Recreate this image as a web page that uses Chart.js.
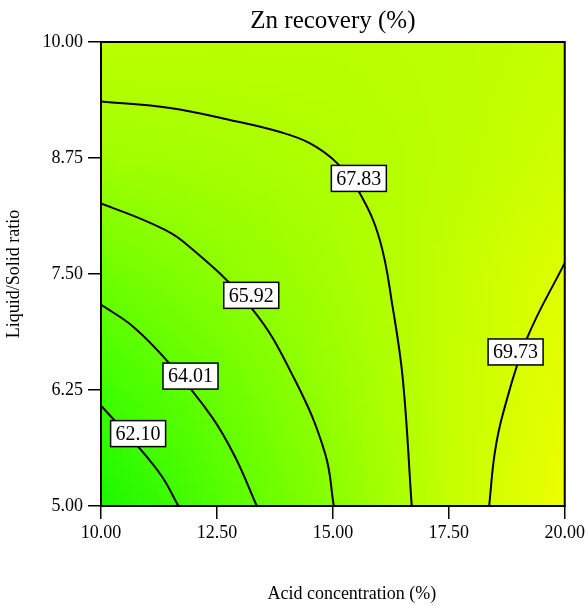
<!DOCTYPE html>
<html>
<head>
<meta charset="utf-8">
<script src="https://cdn.jsdelivr.net/npm/chart.js@4.4.0/dist/chart.umd.min.js"></script>
<style>
  html, body { margin: 0; padding: 0; background: #fff; }
  #wrap { width: 588px; height: 606px; }
</style>
</head>
<body>
<div id="wrap"><canvas id="c" width="588" height="606"></canvas></div>
<script>
// Factor levels (axis ticks)
const acidTicks = [10, 12.5, 15, 17.5, 20];
const ratioTicks = [5, 6.25, 7.5, 8.75, 10];

// Response surface estimate, Zn recovery (%): one row per ratio tick (5 → 10),
// one column per acid tick (10 → 20)
const recoveryRow500 = [60.8, 63.3, 65.9, 68.6, 70.5];
const recoveryRow625 = [62.4, 64.4, 66.6, 68.6, 70.1];
const recoveryRow750 = [64.6, 65.9, 67.2, 68.5, 69.8];
const recoveryRow875 = [66.8, 67.2, 67.6, 68.2, 69.0];
const recoveryRow1000 = [68.1, 68.0, 68.0, 68.2, 68.6];

// Contour levels and their traced iso-lines (acid %, liquid/solid ratio)
const contourLevels = [62.10, 64.01, 65.92, 67.83, 69.73];
const contour6210 = [
  {x: 10.00, y: 6.08}, {x: 10.80, y: 5.64}, {x: 11.31, y: 5.32},
  {x: 11.67, y: 5.00}
];
const contour6401 = [
  {x: 10.00, y: 7.17}, {x: 10.70, y: 6.93}, {x: 11.45, y: 6.55},
  {x: 12.39, y: 5.96}, {x: 12.89, y: 5.53}, {x: 13.36, y: 5.00}
];
const contour6592 = [
  {x: 10.00, y: 8.26}, {x: 11.06, y: 8.05}, {x: 11.77, y: 7.85},
  {x: 13.25, y: 7.13}, {x: 14.18, y: 6.36}, {x: 14.83, y: 5.57},
  {x: 15.02, y: 5.00}
];
const contour6783 = [
  {x: 10.00, y: 9.36}, {x: 11.49, y: 9.29}, {x: 12.78, y: 9.16},
  {x: 13.86, y: 9.03}, {x: 14.50, y: 8.91}, {x: 15.08, y: 8.70},
  {x: 15.56, y: 8.39}, {x: 16.01, y: 7.87}, {x: 16.29, y: 7.14},
  {x: 16.51, y: 6.36}, {x: 16.70, y: 5.00}
];
const contour6973 = [
  {x: 18.37, y: 5.00}, {x: 18.49, y: 5.57}, {x: 18.67, y: 6.00},
  {x: 19.18, y: 6.80}, {x: 20.00, y: 7.62}
];
// Where each level's value tag sits (acid %, liquid/solid ratio)
const contourLabelAt = [
  {x: 10.80, y: 5.78}, {x: 11.93, y: 6.40}, {x: 13.24, y: 7.27},
  {x: 15.56, y: 8.53}, {x: 18.94, y: 6.66}
];

const recoveryGrid = [recoveryRow500, recoveryRow625, recoveryRow750, recoveryRow875, recoveryRow1000];
const contourLines = [contour6210, contour6401, contour6592, contour6783, contour6973];

const SERIF = "'Liberation Serif', 'Times New Roman', serif";

// green → yellow colour ramp for the response value
function rampColor(v) {
  const r = Math.max(0, Math.min(255, 20 + (v - 60.5) * 22));
  const g = Math.max(0, Math.min(255, 246 + (v - 60.5) * 8));
  return [Math.round(r), Math.round(g), 0];
}

const surfacePlugin = {
  id: 'surface',
  beforeDatasetsDraw(chart) {
    const {ctx, chartArea: a, scales: {x, y}} = chart;
    const nx = acidTicks.length, ny = ratioTicks.length;
    const off = document.createElement('canvas');
    off.width = nx; off.height = ny;
    const octx = off.getContext('2d');
    const img = octx.createImageData(nx, ny);
    for (let r = 0; r < ny; r++) {
      const row = recoveryGrid[ny - 1 - r];
      for (let c = 0; c < nx; c++) {
        const [R, G, B] = rampColor(row[c]);
        const k = (r * nx + c) * 4;
        img.data[k] = R; img.data[k + 1] = G; img.data[k + 2] = B; img.data[k + 3] = 255;
      }
    }
    octx.putImageData(img, 0, 0);
    const x0 = x.getPixelForValue(acidTicks[0]);
    const x1 = x.getPixelForValue(acidTicks[nx - 1]);
    const yTop = y.getPixelForValue(ratioTicks[ny - 1]);
    const yBot = y.getPixelForValue(ratioTicks[0]);
    const cw = (x1 - x0) / (nx - 1), ch = (yBot - yTop) / (ny - 1);
    ctx.save();
    ctx.beginPath();
    ctx.rect(a.left, a.top, a.right - a.left, a.bottom - a.top);
    ctx.clip();
    ctx.imageSmoothingEnabled = true;
    ctx.imageSmoothingQuality = 'low';
    ctx.drawImage(off, x0 - cw / 2, yTop - ch / 2, cw * nx, ch * ny);
    ctx.restore();
  },
  afterDatasetsDraw(chart) {
    const {ctx, chartArea: a, scales: {x, y}} = chart;
    // plot frame
    ctx.save();
    ctx.strokeStyle = '#000';
    ctx.lineWidth = 2;
    ctx.strokeRect(a.left, a.top, a.right - a.left, a.bottom - a.top);
    // contour value tags
    ctx.font = '20px ' + SERIF;
    ctx.textAlign = 'center';
    ctx.textBaseline = 'middle';
    contourLevels.forEach((lvl, i) => {
      const p = contourLabelAt[i];
      const px = x.getPixelForValue(p.x), py = y.getPixelForValue(p.y);
      const txt = lvl.toFixed(2);
      const w = ctx.measureText(txt).width + 10, h = 26;
      ctx.fillStyle = '#fff';
      ctx.fillRect(px - w / 2, py - h / 2, w, h);
      ctx.lineWidth = 1.5;
      ctx.strokeStyle = '#000';
      ctx.strokeRect(px - w / 2, py - h / 2, w, h);
      ctx.fillStyle = '#000';
      ctx.fillText(txt, px, py + 1);
    });
    // horizontal axis title
    ctx.font = '18px ' + SERIF;
    ctx.fillText('Acid concentration (%)', (a.left + a.right) / 2 + 19, 594);
    ctx.restore();
  }
};

new Chart(document.getElementById('c'), {
  type: 'line',
  data: {
    datasets: contourLines.map((pts, i) => ({
      label: contourLevels[i].toFixed(2),
      data: pts,
      borderColor: '#000',
      borderWidth: 2,
      pointRadius: 0,
      tension: 0.4,
      fill: false
    }))
  },
  options: {
    responsive: false,
    animation: false,
    layout: { padding: { left: 0, right: 23, top: 0, bottom: 0 } },
    plugins: {
      legend: { display: false },
      tooltip: { enabled: false },
      title: {
        display: true,
        text: 'Zn recovery (%)',
        color: '#000',
        fullSize: false,
        font: { family: SERIF, size: 25, weight: 'normal' },
        padding: { top: 6, bottom: 6 }
      }
    },
    scales: {
      x: {
        type: 'linear',
        min: acidTicks[0],
        max: acidTicks[acidTicks.length - 1],
        afterBuildTicks(scale) { scale.ticks = acidTicks.map(v => ({value: v})); },
        afterFit(scale) { scale.height = 100; },
        ticks: {
          color: '#000',
          padding: 3,
          maxRotation: 0,
          font: { family: SERIF, size: 18 },
          callback: v => Number(v).toFixed(2)
        },
        grid: { drawOnChartArea: false, drawTicks: true, tickLength: 13, color: '#000', lineWidth: 1.5 },
        border: { display: true, color: '#000', width: 2 }
      },
      y: {
        type: 'linear',
        min: ratioTicks[0],
        max: ratioTicks[ratioTicks.length - 1],
        afterBuildTicks(scale) { scale.ticks = ratioTicks.map(v => ({value: v})); },
        afterFit(scale) { scale.width = 101; },
        ticks: {
          color: '#000',
          padding: 5,
          font: { family: SERIF, size: 18 },
          callback: v => Number(v).toFixed(2)
        },
        title: {
          display: true,
          text: 'Liquid/Solid ratio',
          color: '#000',
          font: { family: SERIF, size: 18 },
          padding: { top: 3, bottom: 0 }
        },
        grid: { drawOnChartArea: false, drawTicks: true, tickLength: 13, color: '#000', lineWidth: 1.5 },
        border: { display: true, color: '#000', width: 2 }
      }
    }
  },
  plugins: [surfacePlugin]
});
</script>
</body>
</html>
